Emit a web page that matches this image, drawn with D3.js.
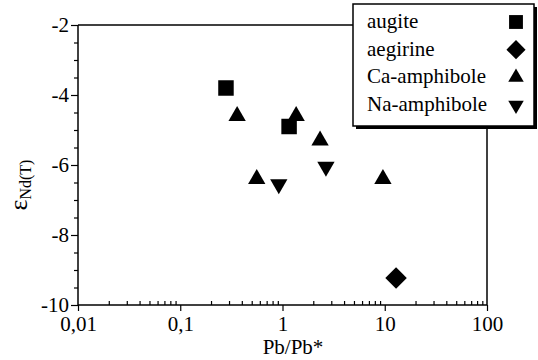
<!DOCTYPE html>
<html>
<head>
<meta charset="utf-8">
<script src="https://cdn.jsdelivr.net/npm/d3@7"></script>
<style>
  body { margin: 0; background: #fff; }
  svg text { font-family: "Liberation Serif", "Times New Roman", serif; fill: #000; }
</style>
</head>
<body>
<div id="chart"></div>
<script>
// data
let augite = [[0.28, -3.8], [1.16, -4.9]];
let aegirine = [[12.9, -9.23]];
let caAmphibole = [[0.36, -4.6], [1.36, -4.6], [2.33, -5.3], [0.56, -6.4], [9.6, -6.4]];
let naAmphibole = [[0.92, -6.55], [2.66, -6.05]];

let xTicks = [0.01, 0.1, 1, 10, 100];
let xTickLabels = ["0,01", "0,1", "1", "10", "100"];
let yTicks = [-2, -4, -6, -8, -10];
let yTickLabels = ["-2", "-4", "-6", "-8", "-10"];

let legendItems = [
  { name: "augite", shape: "square", pts: augite },
  { name: "aegirine", shape: "diamond", pts: aegirine },
  { name: "Ca-amphibole", shape: "up", pts: caAmphibole },
  { name: "Na-amphibole", shape: "down", pts: naAmphibole }
];

let width = 538, height = 360;
let margin = { left: 78, right: 51, top: 25, bottom: 55 };
let serif = "'Liberation Serif', 'Times New Roman', serif";

let svg = d3.select("#chart").append("svg")
  .attr("width", width)
  .attr("height", height);

let x = d3.scaleLog()
  .domain([0.01, 100])
  .range([margin.left, width - margin.right]);

let y = d3.scaleLinear()
  .domain([-10, -2])
  .range([height - margin.bottom, margin.top]);

// minor ticks
let xMinor = [];
for (let d = 0.01; d < 100; d *= 10) {
  for (let k = 2; k <= 9; k++) xMinor.push(+(d * k).toPrecision(2));
}
let yMinor = d3.range(-10, -2, 0.5).filter(v => v % 2 !== 0);

let plotBottom = height - margin.bottom;

// x axis: majors outward, minors inward
svg.append("g")
  .attr("transform", "translate(0," + plotBottom + ")")
  .call(d3.axisBottom(x).tickValues(xTicks).tickSize(6).tickPadding(5)
    .tickFormat((d, i) => xTickLabels[i]))
  .call(g => g.attr("font-family", serif).attr("font-size", 21))
  .call(g => g.select(".domain").remove());

svg.append("g")
  .attr("transform", "translate(0," + plotBottom + ")")
  .call(d3.axisBottom(x).tickValues(xMinor).tickSize(-4).tickFormat(""))
  .call(g => g.select(".domain").remove());

// y axis
svg.append("g")
  .attr("transform", "translate(" + margin.left + ",0)")
  .call(d3.axisLeft(y).tickValues(yTicks).tickSize(7).tickPadding(2)
    .tickFormat((d, i) => yTickLabels[i]))
  .call(g => g.attr("font-family", serif).attr("font-size", 21))
  .call(g => g.select(".domain").remove());

svg.append("g")
  .attr("transform", "translate(" + margin.left + ",0)")
  .call(d3.axisLeft(y).tickValues(yMinor).tickSize(4).tickFormat(""))
  .call(g => g.select(".domain").remove());

svg.selectAll(".tick line").attr("stroke", "#000").attr("stroke-width", 1.2);

// frame
let legX = 353, legY = 4, legW = 181, legH = 122;
let frame = svg.append("g").attr("stroke", "#000").attr("stroke-width", 1.5).attr("fill", "none");
frame.append("line").attr("x1", margin.left).attr("x2", margin.left)
  .attr("y1", margin.top).attr("y2", plotBottom);
frame.append("line").attr("x1", margin.left).attr("x2", width - margin.right)
  .attr("y1", plotBottom).attr("y2", plotBottom);
frame.append("line").attr("x1", margin.left).attr("x2", legX)
  .attr("y1", margin.top).attr("y2", margin.top);
frame.append("line").attr("x1", width - margin.right).attr("x2", width - margin.right)
  .attr("y1", legY + legH).attr("y2", plotBottom);

// symbols
let symbolSize = { square: 240, diamond: 230, up: 130, down: 130 };
function shapePath(shape, scale) {
  let s = symbolSize[shape] * scale;
  if (shape == "square") return d3.symbol(d3.symbolSquare, s)();
  if (shape == "diamond") {
    let r = Math.sqrt(s / 2);
    return "M0," + (-r) + "L" + r + ",0L0," + r + "L" + (-r) + ",0Z";
  }
  return d3.symbol(d3.symbolTriangle, s)();
}

legendItems.forEach(function(item) {
  svg.append("g").selectAll("path")
    .data(item.pts)
    .enter().append("path")
    .attr("d", shapePath(item.shape, 1))
    .attr("transform", d => "translate(" + x(d[0]) + "," + y(d[1]) + ")" + (item.shape == "down" ? " rotate(180)" : ""))
    .attr("fill", "#000");
});

// axis titles
svg.append("text")
  .attr("x", 293)
  .attr("y", 354)
  .attr("text-anchor", "middle")
  .style("font-size", "21px")
  .text("Pb/Pb*");

let yTitle = svg.append("text")
  .attr("transform", "translate(27,185) rotate(-90)")
  .attr("text-anchor", "middle");
yTitle.append("tspan").style("font-size", "26px").text("ε");
yTitle.append("tspan").style("font-size", "16px").attr("dy", 4).text("Nd(T)");

// legend
let legend = svg.append("g");
legend.append("rect")
  .attr("x", legX + 3).attr("y", legY + 3)
  .attr("width", legW).attr("height", legH)
  .attr("fill", "#000");
legend.append("rect")
  .attr("x", legX).attr("y", legY)
  .attr("width", legW).attr("height", legH)
  .attr("fill", "#fff").attr("stroke", "#000").attr("stroke-width", 1.5);

let rows = legend.selectAll(".row")
  .data(legendItems)
  .enter().append("g")
  .attr("transform", (d, i) => "translate(0," + (28 + i * 27.7) + ")");

rows.append("text")
  .attr("x", legX + 14)
  .style("font-size", "21px")
  .text(d => d.name);

rows.append("path")
  .attr("d", d => shapePath(d.shape, 0.8))
  .attr("transform", d => "translate(" + (legX + 163) + ",-6)" + (d.shape == "down" ? " rotate(180)" : ""))
  .attr("fill", "#000");
</script>
</body>
</html>
